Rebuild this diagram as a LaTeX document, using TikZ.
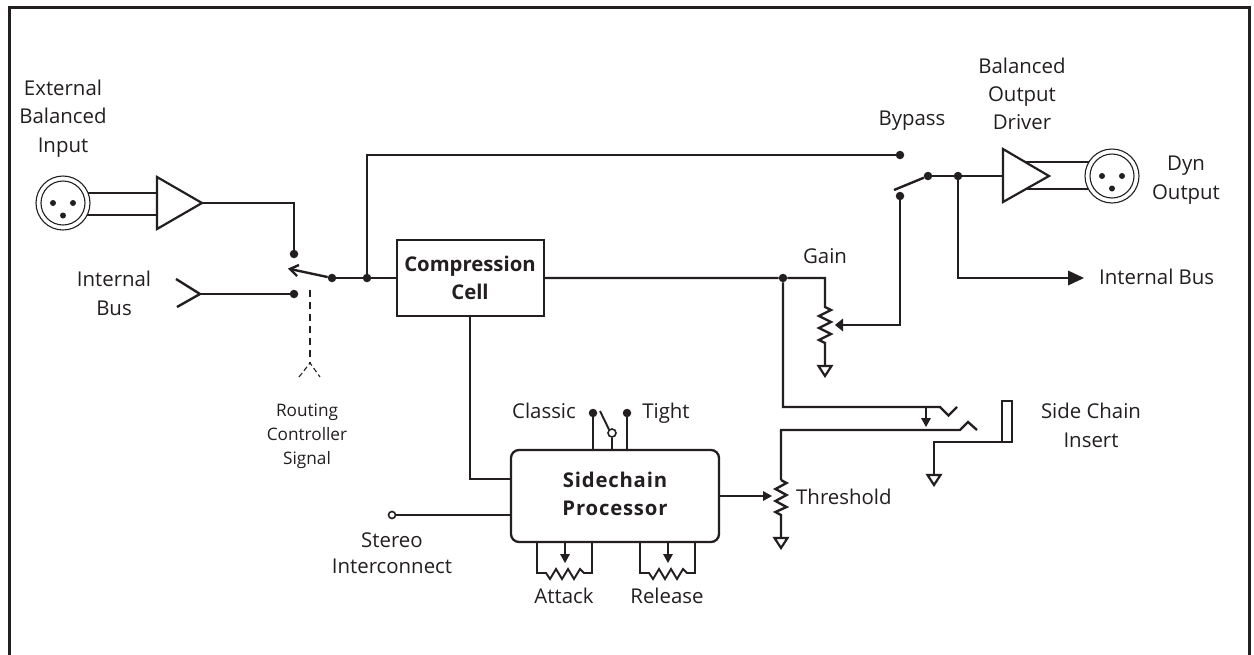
\documentclass[tikz,border=0pt]{standalone}
\usepackage{fontspec}
\setmainfont{Open Sans}
\usetikzlibrary{arrows.meta,calc}
\definecolor{ink}{HTML}{231F20}
\tikzset{
 every picture/.style={x=1pt,y=-1pt},
 wire/.style={draw=ink,line width=2.4pt,line join=miter},
 thin wire/.style={draw=ink,line width=1.9pt},
 dot/.style={circle,fill=ink,inner sep=0pt,minimum size=8.5pt},
 smalldot/.style={circle,fill=ink,inner sep=0pt,minimum size=6pt},
 opendot/.style={circle,draw=ink,fill=white,line width=1.6pt,inner sep=0pt,minimum size=8pt},
 label/.style={font=\fontsize{20.4}{24}\selectfont,text=ink,align=center,inner sep=0pt,anchor=base},
 boldlabel/.style={label,font=\fontsize{20.3}{24}\selectfont\bfseries},
 spacedlabel/.style={label,font=\fontsize{20.3}{24}\selectfont\bfseries\addfontfeature{LetterSpace=4}},
 smalllabel/.style={label,font=\fontsize{17.2}{24}\selectfont},
 block/.style={draw=ink,line width=2.3pt,fill=white,outer sep=0pt},
 amp/.style={draw=ink,line width=2.2pt,fill=white,line join=miter},
 gndtri/.style={draw=ink,line width=2.2pt,fill=white,line join=miter},
}
\newcommand{\xlr}[2]{%
 \draw[ink,line width=1.1pt,fill=white] (#1,#2) circle (27);
 \draw[ink,line width=1.1pt] (#1,#2) circle (22);
 \node[smalldot] at (#1-10,#2) {};
 \node[smalldot] at (#1+10,#2) {};
 \node[smalldot] at (#1,#2+12.5) {};
}
\newcommand{\gnd}[2]{\draw[gndtri] (#1-6.5,#2) -- (#1+6.5,#2) -- (#1,#2+10) -- cycle;}
\begin{document}
\begin{tikzpicture}
\useasboundingbox (0,0) rectangle (1254,654);
\fill[white] (0,0) rectangle (1254,654);
\draw[ink,line width=3pt,line join=miter] (9.5,656) -- (9.5,7) -- (1249.5,7) -- (1249.5,656);

% named points
\node[dot] (swA) at (294,254) {};
\node[dot] (swB) at (294,294) {};
\node[dot] (pivot) at (332,278) {};
\node[dot] (tee) at (367,278) {};
\node[dot] (byA) at (900,155) {};
\node[dot] (byB) at (900,196) {};
\node[dot] (byC) at (928,176) {};
\node[dot] (out) at (958,176) {};
\node[dot] (gainT) at (783,278) {};
\node[dot] (clas) at (593,413) {};
\node[dot] (tight) at (627,413) {};
\node[opendot] (mid) at (612,433) {};
\node[opendot,minimum size=7pt] (stereo) at (392,515) {};
\coordinate (ampInTip) at (202,203);
\coordinate (forkC) at (200,294);
\coordinate (swArm) at (290,269);
\coordinate (byArm) at (894,190);

% blocks
\node[block,minimum width=147pt,minimum height=76pt,anchor=north west,inner sep=0pt] (comp) at (397,240) {};
\node[block,rounded corners=8pt,minimum width=208pt,minimum height=92pt,anchor=north west,inner sep=0pt] (side) at (511,450) {};
\node[boldlabel] at (470,271) {Compression};
\node[boldlabel] at (470,299) {Cell};
\node[spacedlabel] at (615,487) {Sidechain};
\node[spacedlabel] at (615,515) {Processor};

% input connector and amp
\coordinate (inA) at (85,193);\coordinate (inB) at (85,215);
\draw[wire] (inA) -- (157,193) (inB) -- (157,215);
\xlr{63}{203}
\draw[amp] (157,177) -- (157,229) -- (ampInTip) -- cycle;
\draw[wire] (ampInTip) -| (swA);
\draw[wire] (176,279) -- (forkC) -- (177,307);
\draw[wire] (forkC) -- (swB);
\draw[wire] (pivot) -- (swArm);
\draw[wire] (299,265) -- (swArm) -- (297,276);
\draw[wire] (pivot) -- (comp.west);
\draw[wire] (tee) |- (byA);
\draw[ink,line width=1.1pt,dash pattern=on 7pt off 5pt] (310,290) -- (310,363);
\draw[ink,line width=1.1pt,dash pattern=on 5pt off 3pt] (299,377) -- (310,363) -- (320,377);

% output stage
\draw[wire] (byC) -- (byArm);
\draw[wire] (byC) -- (out) -- (1003,176);
\coordinate (outA) at (1090,162);\coordinate (outB) at (1090,189);
\draw[wire] (1026,162) -- (outA) (1026,189) -- (outB);
\xlr{1112}{176}
\draw[amp,fill=none] (1003,149) -- (1003,202) -- (1049,176) -- cycle;
\coordinate (busEnd) at (1084,278);
\draw[wire] (out) |- (1068,278);
\fill[ink] (1068,270.5) -- (busEnd) -- (1068,285.5) -- cycle;

% gain pot
\draw[wire] (comp.east |- gainT) -- (gainT) -- (825,278) -- (825,307) -- (831,310) -- (819,316) -- (831,322) -- (819,328) -- (831,334) -- (819,340) -- (825,343) -- (825,366);
\gnd{825}{366}
\coordinate (gainW) at (835,325);
\draw[wire] (byB) -- (900,325) -- (843,325);
\fill[ink] (843,318.5) -- (gainW) -- (843,331.5) -- cycle;

% insert jack
\draw[wire] (gainT) -- (783,407) -- (940,407) -- (948.5,415.5) -- (957,407);
\draw[wire] (926,407) -- (926,420);
\fill[ink] (921,418) -- (926,427) -- (931,418) -- cycle;
\draw[wire] (781,480) -- (781,430) -- (960,430) -- (968,422) -- (977,430);
\draw[wire] (781,480) -- (786.5,483) -- (775.5,489) -- (786.5,495) -- (775.5,501) -- (786.5,507) -- (775.5,512) -- (781,515) -- (781,538);
\gnd{781}{538}
\draw[thin wire] (1002,401) rectangle (1012,442);
\draw[wire] (1002,442) -- (934,442) -- (934,475);
\gnd{934}{475}

% sidechain connections
\draw[wire] (470,316) -- (470,479) -- (511,479);
\draw[thin wire] (stereo) -- (511,515);
\draw[thin wire] (clas) -- (593,450);
\draw[thin wire] (tight) -- (627,450);
\draw[thin wire] (mid) -- (612,450);
\draw[thin wire] (609,429.5) -- (600,411);
\draw[wire] (719,496) -- (764,496);
\fill[ink] (763,491) -- (772,496) -- (763,501) -- cycle;

% attack and release
\foreach \xa in {537,640}{
 \draw[thin wire] (\xa,542) -- (\xa,573) -- (\xa+9,573) -- (\xa+13,579) -- (\xa+19,569) -- (\xa+25,579) -- (\xa+31,569) -- (\xa+37,579) -- (\xa+43,569) -- (\xa+47,573) -- (\xa+55,573) -- (\xa+55,542);
 \draw[wire] (\xa+28,542) -- (\xa+28,556);
 \fill[ink] (\xa+23,554) -- (\xa+28,563) -- (\xa+33,554) -- cycle;
}

% labels
\node[label] at (63,95) {External};
\node[label] at (63,123) {Balanced};
\node[label] at (63,152) {Input};
\node[label] at (114,286) {Internal};
\node[label] at (114,315) {Bus};
\node[smalllabel] at (307,416) {Routing};
\node[smalllabel] at (307,440) {Controller};
\node[smalllabel] at (307,464) {Signal};
\node[label] at (1022,73) {Balanced};
\node[label] at (1022,101) {Output};
\node[label] at (1022,129) {Driver};
\node[label] at (912,125) {Bypass};
\node[label] at (1186,170) {Dyn};
\node[label] at (1186,199) {Output};
\node[label,anchor=base west] at (1099,284) {Internal Bus};
\node[label] at (825,263) {Gain};
\node[label,anchor=base west] at (796,504) {Threshold};
\node[label] at (1091,418) {Side Chain};
\node[label] at (1091,447) {Insert};
\node[label] at (544,418) {Classic};
\node[label] at (666,418) {Tight};
\node[label] at (392,547) {Stereo};
\node[label] at (392,573) {Interconnect};
\node[label] at (564,603) {Attack};
\node[label] at (667,603) {Release};
\end{tikzpicture}
\end{document}
